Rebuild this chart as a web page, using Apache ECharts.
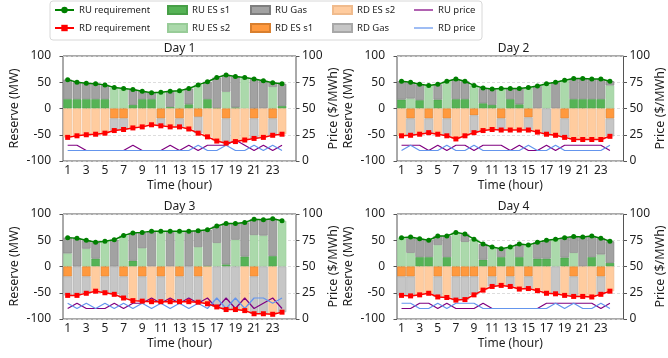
<!DOCTYPE html>
<html><head><meta charset="utf-8">
<script src="https://cdn.jsdelivr.net/npm/echarts@6/dist/echarts.min.js"></script>
<style>html,body{margin:0;padding:0;background:#fff}#c{width:668px;height:358px}</style>
</head><body><div id="c"></div>
<script>
const hours = ['1','2','3','4','5','6','7','8','9','10','11','12','13','14','15','16','17','18','19','20','21','22','23','24'];
const tickHours = ['1','3','5','7','9','11','13','15','17','19','21','23'];
const dayTitles = ['Day 1','Day 2','Day 3','Day 4'];

// Day 1
const d1RuReq = [55,50,48,47,45,40,38,36,33,30,31,33,34,38,45,51,59,64,61,59,56,53,49,47];
const d1RdReq = [-55,-52,-50,-49,-47,-42,-40,-37,-35,-31,-33,-35,-35,-39,-47,-54,-62,-66,-63,-60,-57,-55,-51,-49];
const d1RuEs1 = [18,18,18,18,18,0,0,7,18,18,0,3,0,8,0,18,1,0,2,0,0,0,0,5];
const d1RuEs2 = [0,0,0,0,0,40,38,0,0,0,31,0,34,0,45,0,0,32,0,59,0,0,41,0];
const d1RuGas = [37,32,30,29,27,0,0,29,15,12,0,30,0,30,0,33,58,32,59,0,56,53,8,42];
const d1RdEs1 = [0,0,0,0,0,-19,-19,0,0,0,-19,0,-19,0,-16,0,0,-19,0,0,-19,0,-19,0];
const d1RdEs2 = [-55,-52,-50,-49,-47,0,0,-37,-35,-31,0,-35,0,-39,0,-54,-62,0,-63,-60,0,-55,0,-49];
const d1RdGas = [0,0,0,0,0,-23,-21,0,0,0,-14,0,-16,0,-31,0,0,-47,0,0,-38,0,-32,0];
const d1RuPrice = [15,15,10,10,10,10,10,15,10,10,10,15,10,15,10,15,15,15,20,15,10,15,10,15];
const d1RdPrice = [10,10,10,10,10,10,10,10,10,10,10,10,10,10,15,10,10,15,10,10,15,10,15,10];

// Day 2
const d2RuReq = [52,50,46,44,46,52,56,52,44,39,37,38,38,38,40,43,47,50,54,57,57,56,56,52];
const d2RdReq = [-52,-51,-49,-46,-49,-52,-58,-52,-46,-42,-40,-41,-41,-41,-41,-45,-49,-51,-55,-59,-59,-59,-59,-53];
const d2RuEs1 = [17,0,16,0,17,0,18,18,0,10,7,0,18,8,0,0,0,0,0,18,18,18,18,0];
const d2RuEs2 = [0,19,0,44,0,52,0,0,44,0,0,38,0,0,40,0,47,0,54,0,0,0,0,44];
const d2RuGas = [35,31,30,0,29,0,38,34,0,29,30,0,20,30,0,43,0,50,0,39,39,38,38,8];
const d2RdEs1 = [0,-19,0,-19,0,-19,0,0,-13,0,0,-19,0,0,-17,0,0,0,-19,0,0,0,0,-19];
const d2RdEs2 = [-52,0,-49,0,-49,0,-58,-52,0,-42,-40,0,-41,-41,0,-45,0,-51,0,-59,-59,-59,-59,0];
const d2RdGas = [0,-32,0,-27,0,-33,0,0,-33,0,0,-22,0,0,-24,0,-49,0,-36,0,0,0,0,-34];
const d2RuPrice = [15,15,15,10,15,10,15,15,10,15,15,15,10,15,10,10,15,10,15,15,15,15,15,10];
const d2RdPrice = [10,15,10,10,10,15,10,10,15,10,10,10,10,10,15,10,10,15,10,10,10,10,10,15];

// Day 3
const d3RuReq = [55,54,50,46,48,51,59,64,65,67,67,67,67,67,68,70,77,82,82,84,90,89,91,87];
const d3RdReq = [-55,-55,-51,-47,-50,-53,-60,-65,-66,-67,-67,-67,-67,-67,-68,-71,-77,-82,-82,-84,-90,-90,-91,-87];
const d3RuEs1 = [0,0,0,15,0,0,0,11,0,0,0,0,0,0,0,1,0,4,0,19,0,0,20,0];
const d3RuEs2 = [25,0,34,0,48,0,59,0,35,0,67,0,67,0,37,0,45,0,51,0,60,59,0,87];
const d3RuGas = [30,54,16,31,0,51,0,53,30,67,0,67,0,67,31,69,32,78,31,65,30,30,71,0];
const d3RdEs1 = [-19,0,-19,0,-19,0,-19,0,-19,0,-19,0,-19,0,-19,0,0,0,0,0,-19,0,0,0];
const d3RdEs2 = [0,0,0,-47,0,0,0,-65,0,-67,0,-67,0,0,0,-71,0,0,0,-84,0,0,-91,0];
const d3RdGas = [-36,-55,-32,0,-31,-53,-41,0,-47,0,-48,0,-48,-67,-49,0,-77,-82,-82,0,-71,-90,0,-87];
const d3RuPrice = [10,15,10,10,10,15,10,15,15,20,15,20,15,20,15,20,10,20,10,20,10,15,20,10];
const d3RdPrice = [15,10,15,10,15,10,15,10,15,10,15,10,15,10,15,10,20,10,20,10,20,20,15,20];

// Day 4
const d4RuReq = [55,56,53,50,58,58,65,62,52,43,37,34,37,43,41,46,50,52,55,57,56,58,54,48];
const d4RdReq = [-55,-56,-54,-51,-58,-59,-64,-63,-54,-45,-38,-36,-38,-43,-42,-46,-51,-52,-55,-57,-57,-58,-53,-47];
const d4RuEs1 = [0,0,18,18,0,18,0,0,0,13,0,18,0,18,0,15,15,0,17,0,0,18,0,7];
const d4RuEs2 = [55,26,0,0,41,0,65,47,52,0,37,0,37,0,41,0,0,52,0,26,0,0,23,0];
const d4RuGas = [0,30,35,32,17,40,0,15,0,30,0,16,0,25,0,31,35,0,38,31,56,40,31,41];
const d4RdEs1 = [-19,-19,0,0,-19,0,-19,-19,-19,0,-19,0,-19,0,-19,0,0,0,0,-19,0,0,-19,0];
const d4RdEs2 = [0,0,-54,-51,0,-59,0,0,0,-45,0,-36,0,-43,0,-46,-51,0,-55,0,-57,-58,0,-47];
const d4RdGas = [-36,-37,0,0,-39,0,-45,-44,-35,0,-19,0,-19,0,-23,0,0,-52,0,-38,0,0,-34,0];
const d4RuPrice = [10,10,15,15,10,15,10,10,10,15,10,10,10,10,10,10,15,15,15,15,15,15,10,15];
const d4RdPrice = [15,15,10,10,15,10,15,15,15,10,10,10,10,10,10,10,10,15,10,15,10,10,15,10];

const days = [
  {ruReq:d1RuReq, rdReq:d1RdReq, ruEs1:d1RuEs1, ruEs2:d1RuEs2, ruGas:d1RuGas, rdEs1:d1RdEs1, rdEs2:d1RdEs2, rdGas:d1RdGas, ruPrice:d1RuPrice, rdPrice:d1RdPrice},
  {ruReq:d2RuReq, rdReq:d2RdReq, ruEs1:d2RuEs1, ruEs2:d2RuEs2, ruGas:d2RuGas, rdEs1:d2RdEs1, rdEs2:d2RdEs2, rdGas:d2RdGas, ruPrice:d2RuPrice, rdPrice:d2RdPrice},
  {ruReq:d3RuReq, rdReq:d3RdReq, ruEs1:d3RuEs1, ruEs2:d3RuEs2, ruGas:d3RuGas, rdEs1:d3RdEs1, rdEs2:d3RdEs2, rdGas:d3RdGas, ruPrice:d3RuPrice, rdPrice:d3RdPrice},
  {ruReq:d4RuReq, rdReq:d4RdReq, ruEs1:d4RuEs1, ruEs2:d4RuEs2, ruGas:d4RuGas, rdEs1:d4RdEs1, rdEs2:d4RdEs2, rdGas:d4RdGas, ruPrice:d4RuPrice, rdPrice:d4RdPrice}
];

const FONT = 'Noto Sans';
const TXT = '#1e1e1e';
const FRAME = '#555';
const gridPos = [
  {left:63, top:56, width:233, height:105},
  {left:397, top:56, width:233, height:105},
  {left:63, top:214, width:233, height:105},
  {left:397, top:214, width:233, height:105}
];
const barDefs = [
  {key:'ruEs1', name:'RU ES s1', color:'#56b356', border:'#479f47'},
  {key:'ruEs2', name:'RU ES s2', color:'#abd9ab', border:'#98cc98'},
  {key:'ruGas', name:'RU Gas', color:'#a2a2a2', border:'#7e7e7e'},
  {key:'rdEs1', name:'RD ES s1', color:'#ff993e', border:'#d97f2e'},
  {key:'rdEs2', name:'RD ES s2', color:'#ffcc9f', border:'#f0bb8d'},
  {key:'rdGas', name:'RD Gas', color:'#c6c6c6', border:'#a8a8a8'}
];
// category axis: 24 hours plus one empty slot on the right
const cats = hours.concat(['']);
const isTick = (idx) => tickHours.indexOf(cats[idx]) >= 0;
const barData = arr => arr.map(v => v === 0 ? {value:0, itemStyle:{borderWidth:0}} : v);

const grid = [], xAxis = [], yAxis = [], series = [], graphic = [];
days.forEach((d,k) => {
  const g = gridPos[k];
  grid.push(Object.assign({show:true, borderColor:FRAME, borderWidth:1, backgroundColor:'transparent'}, g));
  xAxis.push({
    type:'category', gridIndex:k, data:cats, boundaryGap:true,
    name:'Time (hour)', nameLocation:'middle', nameGap:19,
    nameTextStyle:{fontSize:12, color:TXT, fontFamily:FONT},
    axisLine:{show:false},
    axisTick:{show:true, length:3.5, alignWithLabel:true, interval:(i)=>isTick(i), lineStyle:{color:FRAME}},
    axisLabel:{interval:(i)=>isTick(i), fontSize:12, color:TXT, margin:4, fontFamily:FONT},
    splitLine:{show:false}
  });
  yAxis.push({
    type:'value', gridIndex:k, position:'left', min:-100, max:100, interval:50,
    name:'Reserve (MW)', nameLocation:'middle', nameGap:42, nameRotate:90,
    nameTextStyle:{fontSize:12.5, color:TXT, fontFamily:FONT},
    axisLine:{show:false},
    axisTick:{show:true, length:3.5, lineStyle:{color:FRAME}},
    axisLabel:{fontSize:12, color:TXT, margin:12, fontFamily:FONT},
    splitLine:{show:true, lineStyle:{type:[3,2], color:'#d4d4d4', width:0.8}}
  });
  yAxis.push({
    type:'value', gridIndex:k, position:'right', min:0, max:100, interval:25,
    name:'Price ($/MWh)', nameLocation:'middle', nameGap:24, nameRotate:90,
    nameTextStyle:{fontSize:12.5, color:TXT, fontFamily:FONT},
    axisLine:{show:false},
    axisTick:{show:true, length:3.5, lineStyle:{color:FRAME}},
    axisLabel:{fontSize:12, color:TXT, margin:6, fontFamily:FONT},
    splitLine:{show:false}
  });
  barDefs.forEach(b => {
    series.push({
      type:'bar', name:b.name, xAxisIndex:k, yAxisIndex:2*k, stack:'st'+k,
      barWidth:8.6, data:barData(d[b.key]),
      itemStyle:{color:b.color, borderColor:b.border, borderWidth:0.6},
      emphasis:{disabled:true}
    });
  });
  series.push({type:'line', name:'RU price', xAxisIndex:k, yAxisIndex:2*k+1, data:d.ruPrice,
    symbol:'none', lineStyle:{color:'#800080', width:1.2}, itemStyle:{color:'#800080'}, z:3});
  series.push({type:'line', name:'RD price', xAxisIndex:k, yAxisIndex:2*k+1, data:d.rdPrice,
    symbol:'none', lineStyle:{color:'#6495ed', width:1.2}, itemStyle:{color:'#6495ed'}, z:3});
  series.push({type:'line', name:'RU requirement', xAxisIndex:k, yAxisIndex:2*k, data:d.ruReq,
    symbol:'circle', symbolSize:5, lineStyle:{color:'#008000', width:1.5}, itemStyle:{color:'#008000'}, z:4});
  series.push({type:'line', name:'RD requirement', xAxisIndex:k, yAxisIndex:2*k, data:d.rdReq,
    symbol:'rect', symbolSize:5, lineStyle:{color:'#ff0000', width:1.5}, itemStyle:{color:'#ff0000'}, z:4});
  graphic.push({type:'text', x:g.left + g.width/2, y:g.top - 7,
    style:{text:dayTitles[k], fill:TXT, font:'12px "Noto Sans"', textAlign:'center', textVerticalAlign:'middle'}});
});

graphic.push({type:'rect', shape:{x:50, y:1, width:432, height:39, r:3},
  style:{fill:'#fff', stroke:'#d8d8d8', lineWidth:1}, z:-1});

const lineIcon = 'path://M0,0L20,0L20,1.3L0,1.3Z';
const legendCols = [
  {left:54, items:[{name:'RU requirement'},{name:'RD requirement'}]},
  {left:167, items:[{name:'RU ES s1', icon:'rect'},{name:'RU ES s2', icon:'rect'}]},
  {left:250, items:[{name:'RU Gas', icon:'rect'},{name:'RD ES s1', icon:'rect'}]},
  {left:332, items:[{name:'RD ES s2', icon:'rect'},{name:'RD Gas', icon:'rect'}]},
  {left:414, items:[{name:'RU price', icon:lineIcon},{name:'RD price', icon:lineIcon}]}
];
const legend = legendCols.map(c => ({
  left:c.left, top:5, orient:'vertical', itemGap:8, itemWidth:19, itemHeight:8, padding:0,
  selectedMode:false, data:c.items,
  textStyle:{fontSize:9.5, color:TXT, fontFamily:FONT}
}));

const chart = echarts.init(document.getElementById('c'), null, {renderer:'canvas'});
chart.setOption({
  animation:false,
  textStyle:{fontFamily:FONT},
  grid, xAxis, yAxis, series, legend, graphic
});
</script>
</body></html>
